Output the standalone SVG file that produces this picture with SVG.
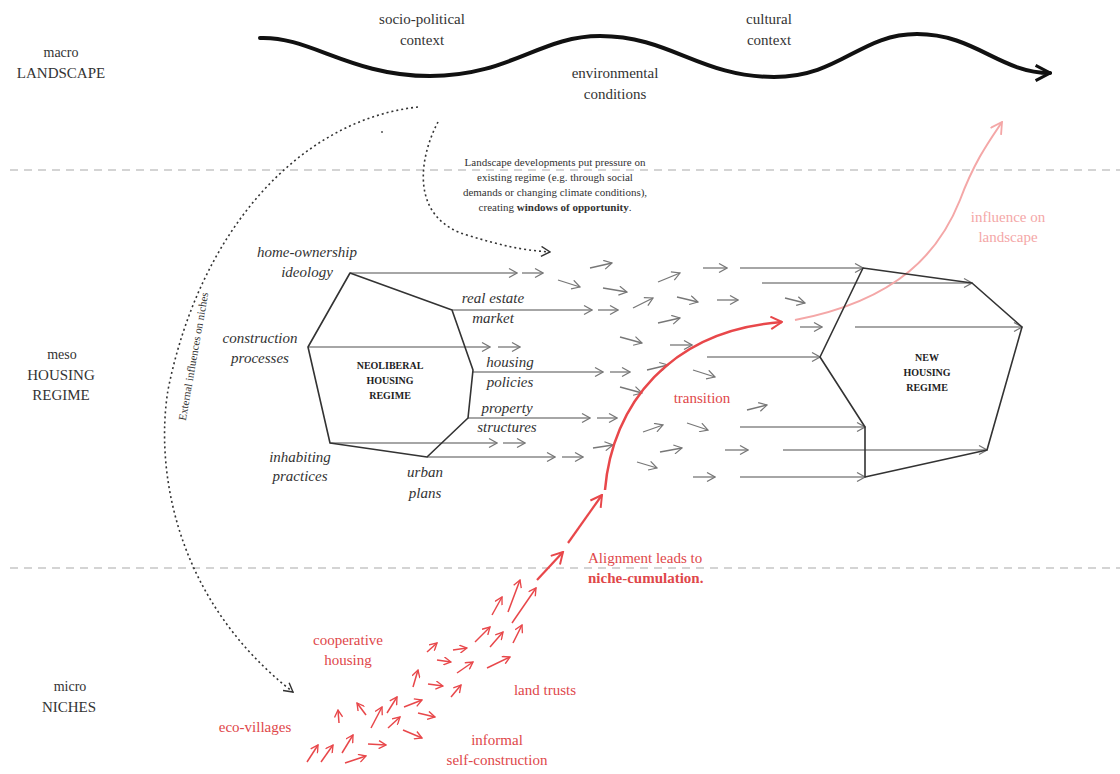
<svg xmlns="http://www.w3.org/2000/svg" width="1120" height="774" viewBox="0 0 1120 774">
<style>
text{font-family:"Liberation Serif","DejaVu Serif",serif;}
.lbl{font-size:14px;fill:#333;text-anchor:middle;}
.big{font-size:15px;fill:#333;text-anchor:middle;}
.it{font-size:15px;font-style:italic;fill:#333;text-anchor:middle;}
.caps{font-size:10px;font-weight:bold;fill:#222;text-anchor:middle;}
.note{font-size:11px;fill:#333;text-anchor:middle;}
.red{font-size:15px;fill:#e0474a;text-anchor:middle;}
.reds{font-size:15px;fill:#e0474a;text-anchor:start;}
.pink{font-size:15px;fill:#f4a7a7;text-anchor:middle;}
.sep{stroke:#d4d4d4;stroke-width:2;stroke-dasharray:8 6;fill:none;}
.dot{stroke:#333;stroke-width:1.6;stroke-dasharray:2 3;fill:none;}
.poly{stroke:#333;stroke-width:1.6;fill:none;stroke-linejoin:round;}
.gl{stroke:#888;stroke-width:1.3;fill:none;marker-end:url(#ag);}
.ga{stroke:#777;stroke-width:1.3;fill:none;marker-end:url(#ag);}
.ra{stroke:#e8474a;stroke-width:1.5;fill:none;marker-end:url(#ar);}
.rb{stroke:#e8474a;stroke-width:2.2;fill:none;marker-end:url(#arb);}
</style>
<defs>
<marker id="ag" viewBox="0 0 10 10" refX="9" refY="5" markerWidth="10" markerHeight="10" markerUnits="userSpaceOnUse" orient="auto"><path d="M1,0.5 L9,5 L1,9.5" fill="none" stroke="#777" stroke-width="1.2"/></marker>
<marker id="ar" viewBox="0 0 10 10" refX="9" refY="5" markerWidth="9" markerHeight="9" markerUnits="userSpaceOnUse" orient="auto"><path d="M1,0.5 L9,5 L1,9.5" fill="none" stroke="#e8474a" stroke-width="1.5"/></marker>
<marker id="arb" viewBox="0 0 10 10" refX="9" refY="5" markerWidth="14" markerHeight="14" markerUnits="userSpaceOnUse" orient="auto"><path d="M1,0.5 L9,5 L1,9.5" fill="none" stroke="#e8474a" stroke-width="1.4"/></marker>
<marker id="ak" viewBox="0 0 10 10" refX="9" refY="5" markerWidth="18" markerHeight="18" markerUnits="userSpaceOnUse" orient="auto"><path d="M1,0.8 L9,5 L1,9.2" fill="none" stroke="#111" stroke-width="1.7"/></marker>
<marker id="ad" viewBox="0 0 10 10" refX="9" refY="5" markerWidth="11" markerHeight="11" markerUnits="userSpaceOnUse" orient="auto"><path d="M1,0.5 L9,5 L1,9.5" fill="none" stroke="#333" stroke-width="1.3"/></marker>
<marker id="ap" viewBox="0 0 10 10" refX="9" refY="5" markerWidth="14" markerHeight="14" markerUnits="userSpaceOnUse" orient="auto"><path d="M1,0.5 L9,5 L1,9.5" fill="none" stroke="#f4a7a7" stroke-width="1.3"/></marker>
</defs>

<g id="separators">
<line class="sep" x1="10" y1="170" x2="1120" y2="170"/>
<line class="sep" x1="10" y1="568" x2="1120" y2="568"/>
</g>

<g id="level-labels">
<text class="lbl" x="61" y="57">macro</text>
<text class="big" x="61" y="78">LANDSCAPE</text>
<text class="lbl" x="62" y="359">meso</text>
<text class="big" x="61" y="380">HOUSING</text>
<text class="big" x="61" y="400">REGIME</text>
<text class="lbl" x="70" y="691">micro</text>
<text class="big" x="69" y="712">NICHES</text>
</g>

<g id="landscape">
<path d="M260,38 C310,36 350,76 430,76 C510,76 540,36 600,36 C670,36 700,77 774,77 C840,77 860,34 917,34 C975,34 1000,73 1050,73" fill="none" stroke="#111" stroke-width="4" stroke-linecap="round" marker-end="url(#ak)"/>
<text class="big" x="422" y="24">socio-political</text>
<text class="big" x="422" y="45">context</text>
<text class="big" x="769" y="24">cultural</text>
<text class="big" x="769" y="45">context</text>
<text class="big" x="615" y="78">environmental</text>
<text class="big" x="615" y="99">conditions</text>
</g>

<g id="connectors">
<path class="dot" d="M418,107 C300,120 200,230 168,390 C155,470 175,600 293,692" marker-end="url(#ad)"/>
<circle cx="382" cy="132" r="1" fill="#555"/>
<path class="dot" d="M438,122 C418,160 410,220 470,236 C500,245 520,250 550,252" marker-end="url(#ad)"/>

<line class="gl" x1="350" y1="273" x2="517" y2="273"/>
<line class="gl" x1="452" y1="310" x2="592" y2="310"/>
<line class="gl" x1="308" y1="347" x2="490" y2="347"/>
<line class="gl" x1="473" y1="372" x2="603" y2="372"/>
<line class="gl" x1="468" y1="418" x2="590" y2="418"/>
<line class="gl" x1="330" y1="443" x2="497" y2="443"/>
<line class="gl" x1="427" y1="457" x2="555" y2="457"/>
<line class="gl" x1="740" y1="268" x2="863" y2="268"/>
<line class="gl" x1="762" y1="283" x2="972" y2="283"/>
<line class="gl" x1="855" y1="327" x2="1022" y2="327"/>
<line class="gl" x1="707" y1="357" x2="820" y2="357"/>
<line class="gl" x1="740" y1="427" x2="865" y2="427"/>
<line class="gl" x1="783" y1="450" x2="987" y2="450"/>
<line class="gl" x1="740" y1="477" x2="865" y2="477"/>

<line class="ga" x1="590" y1="268" x2="612" y2="263"/>
<line class="ga" x1="522" y1="273" x2="543" y2="273"/>
<line class="ga" x1="558" y1="280" x2="580" y2="287"/>
<line class="ga" x1="603" y1="288" x2="627" y2="292"/>
<line class="ga" x1="658" y1="282" x2="680" y2="273"/>
<line class="ga" x1="703" y1="268" x2="727" y2="268"/>
<line class="ga" x1="633" y1="308" x2="653" y2="298"/>
<line class="ga" x1="677" y1="297" x2="698" y2="302"/>
<line class="ga" x1="717" y1="300" x2="738" y2="300"/>
<line class="ga" x1="785" y1="298" x2="805" y2="303"/>
<line class="ga" x1="658" y1="323" x2="680" y2="318"/>
<line class="ga" x1="620" y1="337" x2="642" y2="343"/>
<line class="ga" x1="670" y1="345" x2="692" y2="345"/>
<line class="ga" x1="800" y1="327" x2="822" y2="327"/>
<line class="ga" x1="598" y1="310" x2="618" y2="310"/>
<line class="ga" x1="498" y1="347" x2="520" y2="347"/>
<line class="ga" x1="610" y1="372" x2="630" y2="372"/>
<line class="ga" x1="647" y1="370" x2="668" y2="365"/>
<line class="ga" x1="693" y1="370" x2="715" y2="377"/>
<line class="ga" x1="620" y1="387" x2="642" y2="393"/>
<line class="ga" x1="747" y1="410" x2="767" y2="405"/>
<line class="ga" x1="643" y1="432" x2="663" y2="425"/>
<line class="ga" x1="687" y1="423" x2="708" y2="430"/>
<line class="ga" x1="597" y1="418" x2="617" y2="418"/>
<line class="ga" x1="503" y1="443" x2="525" y2="443"/>
<line class="ga" x1="593" y1="448" x2="613" y2="445"/>
<line class="ga" x1="660" y1="452" x2="682" y2="448"/>
<line class="ga" x1="725" y1="450" x2="748" y2="450"/>
<line class="ga" x1="637" y1="462" x2="657" y2="468"/>
<line class="ga" x1="693" y1="477" x2="715" y2="477"/>
<line class="ga" x1="562" y1="457" x2="583" y2="457"/>

<path d="M605,490 C612,405 670,330 782,322" fill="none" stroke="#e8474a" stroke-width="2.5" marker-end="url(#arb)"/>
<path d="M795,320 C900,300 940,250 960,200 C975,160 990,140 1002,122" fill="none" stroke="#f4a7a7" stroke-width="2" marker-end="url(#ap)"/>

<line class="rb" x1="568" y1="543" x2="602" y2="495"/>
<line class="rb" x1="537" y1="580" x2="563" y2="552"/>
<line class="ra" x1="307" y1="762" x2="318" y2="745"/>
<line class="ra" x1="321" y1="762" x2="333" y2="745"/>
<line class="ra" x1="342" y1="753" x2="353" y2="735"/>
<line class="ra" x1="345" y1="763" x2="366" y2="756"/>
<line class="ra" x1="368" y1="744" x2="386" y2="745"/>
<line class="ra" x1="339" y1="723" x2="338" y2="710"/>
<line class="ra" x1="366" y1="715" x2="357" y2="703"/>
<line class="ra" x1="371" y1="728" x2="382" y2="707"/>
<line class="ra" x1="388" y1="728" x2="400" y2="717"/>
<line class="ra" x1="387" y1="713" x2="397" y2="697"/>
<line class="ra" x1="404" y1="707" x2="422" y2="700"/>
<line class="ra" x1="403" y1="730" x2="422" y2="738"/>
<line class="ra" x1="418" y1="713" x2="435" y2="717"/>
<line class="ra" x1="413" y1="687" x2="418" y2="670"/>
<line class="ra" x1="428" y1="684" x2="443" y2="686"/>
<line class="ra" x1="451" y1="697" x2="461" y2="685"/>
<line class="ra" x1="427" y1="652" x2="437" y2="643"/>
<line class="ra" x1="437" y1="660" x2="451" y2="662"/>
<line class="ra" x1="453" y1="650" x2="467" y2="648"/>
<line class="ra" x1="457" y1="673" x2="473" y2="662"/>
<line class="ra" x1="475" y1="642" x2="490" y2="627"/>
<line class="ra" x1="487" y1="668" x2="510" y2="657"/>
<line class="ra" x1="490" y1="647" x2="503" y2="632"/>
<line class="ra" x1="492" y1="615" x2="502" y2="597"/>
<line class="ra" x1="508" y1="612" x2="520" y2="580"/>
<line class="ra" x1="512" y1="623" x2="536" y2="588"/>
<line class="ra" x1="513" y1="643" x2="522" y2="625"/>
</g>

<g id="note-external">
<text class="note" transform="translate(197,357) rotate(-80)">External influences on niches</text>
</g>

<g id="note-pressure">
<text class="note" x="555" y="166">Landscape developments put pressure on</text>
<text class="note" x="555" y="181">existing regime (e.g. through social</text>
<text class="note" x="555" y="196">demands or changing climate conditions),</text>
<text class="note" x="555" y="211">creating <tspan font-weight="bold">windows of opportunity</tspan>.</text>
</g>

<g id="neoliberal-regime">
<polygon class="poly" points="350,273 452,310 473,370 468,418 427,457 330,443 308,347"/>
<text class="caps" x="390" y="369">NEOLIBERAL</text>
<text class="caps" x="390" y="384">HOUSING</text>
<text class="caps" x="390" y="399">REGIME</text>
</g>

<g id="regime-elements">
<text class="it" x="307" y="257">home-ownership</text>
<text class="it" x="307" y="277">ideology</text>
<text class="it" x="493" y="303">real estate</text>
<text class="it" x="493" y="323">market</text>
<text class="it" x="260" y="343">construction</text>
<text class="it" x="260" y="363">processes</text>
<text class="it" x="510" y="367">housing</text>
<text class="it" x="510" y="387">policies</text>
<text class="it" x="507" y="413">property</text>
<text class="it" x="507" y="432">structures</text>
<text class="it" x="300" y="462">inhabiting</text>
<text class="it" x="300" y="481">practices</text>
<text class="it" x="425" y="477">urban</text>
<text class="it" x="425" y="498">plans</text>
</g>

<g id="new-regime">
<polygon class="poly" points="863,268 972,283 1022,327 987,450 865,477 865,427 820,357"/>
<text class="caps" x="927" y="361">NEW</text>
<text class="caps" x="927" y="376">HOUSING</text>
<text class="caps" x="927" y="391">REGIME</text>
</g>

<g id="transition-labels">
<text class="red" x="702" y="403">transition</text>
<text class="pink" x="1008" y="222">influence on</text>
<text class="pink" x="1008" y="242">landscape</text>
<text class="reds" x="588" y="563">Alignment leads to</text>
<text class="reds" x="588" y="583" font-weight="bold">niche-cumulation.</text>
</g>

<g id="niches">
<text class="red" x="348" y="645">cooperative</text>
<text class="red" x="348" y="665">housing</text>
<text class="red" x="255" y="732">eco-villages</text>
<text class="red" x="545" y="695">land trusts</text>
<text class="red" x="497" y="745">informal</text>
<text class="red" x="497" y="765">self-construction</text>
</g>
</svg>
